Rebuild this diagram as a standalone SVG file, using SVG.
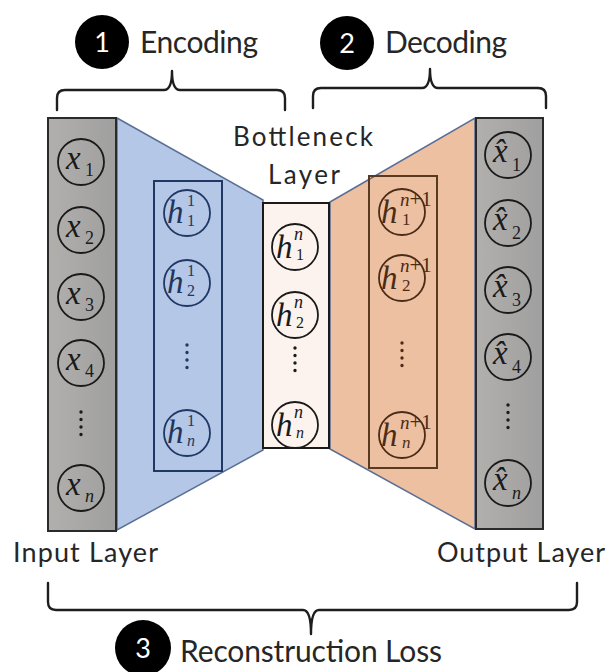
<svg xmlns="http://www.w3.org/2000/svg" width="610" height="672" viewBox="0 0 610 672">
<defs>
<linearGradient id="gray" x1="0" y1="0" x2="1" y2="0">
<stop offset="0" stop-color="#b2b0ad"/>
<stop offset="1" stop-color="#9f9f9f"/>
</linearGradient>
<style>
.lbl{font-family:Lato,"Open Sans","Liberation Sans",sans-serif;fill:#262626}
.num{font-family:Lato,"Open Sans","Liberation Sans",sans-serif;fill:#ffffff;font-size:27px;text-anchor:middle}
.badge{fill:#000000}
.brace{fill:none;stroke:#1e1e1e;stroke-width:2.4;stroke-linejoin:round;stroke-linecap:round}
.m{font-family:"Liberation Serif","DejaVu Serif",serif;font-style:italic;font-size:33px}
.u{font-style:normal}
.sub{font-size:18px}
.sup{font-size:19px}
.sub2{font-size:17px}
.s15{font-size:16px}
.s17{font-size:18px}
.plus{font-size:21px}
.node{fill:none;stroke-width:1.8}
.k{stroke:#1a1a1a}
.kt{fill:#1a1a1a}
.b{stroke:#1f3864}
.bt{fill:#23355a}
.o{stroke:#4a2c17}
.ot{fill:#4a2c17}
.dots{fill:none;stroke-width:3.4;stroke-linecap:round;stroke-dasharray:0 7.5}
.layer{fill:url(#gray);stroke:#2a2a2a;stroke-width:2}
.trap{stroke:#5b6f95;stroke-width:1.5}
</style>
</defs>
<rect width="610" height="672" fill="#ffffff"/>

<g id="connectors">
<polygon class="trap" points="117,118 263,200 263,450 117,530" fill="#b4c7e7"/>
<polygon class="trap" points="330,202 475,118 475,529 330,449" fill="#eec0a2"/>
</g>

<g id="input-layer">
<rect class="layer" x="48" y="118" width="68" height="413"/>
<g id="x1"><circle class="node k" cx="81" cy="162" r="23"/><text class="m kt" x="66" y="169">x<tspan class="u sub" x="85" y="176">1</tspan></text></g>
<g id="x2"><circle class="node k" cx="81" cy="230" r="23"/><text class="m kt" x="66" y="237">x<tspan class="u sub" x="85" y="244">2</tspan></text></g>
<g id="x3"><circle class="node k" cx="81" cy="297" r="23"/><text class="m kt" x="66" y="304">x<tspan class="u sub" x="85" y="311">3</tspan></text></g>
<g id="x4"><circle class="node k" cx="81" cy="363" r="23"/><text class="m kt" x="66" y="370">x<tspan class="u sub" x="85" y="377">4</tspan></text></g>
<line class="dots k" x1="81" y1="412" x2="81" y2="442"/>
<g id="xn"><circle class="node k" cx="81" cy="488" r="23"/><text class="m kt" x="66" y="495">x<tspan class="sub" x="85" y="502">n</tspan></text></g>
</g>

<g id="encoder-layer">
<rect x="154" y="181" width="68" height="290" fill="none" stroke="#1f3864" stroke-width="2"/>
<g id="h1_1"><circle class="node b" cx="187" cy="213" r="23"/><text class="m bt" x="167" y="223">h<tspan class="u s15" x="187" y="206">1</tspan><tspan class="u s15" x="187" y="226">1</tspan></text></g>
<g id="h1_2"><circle class="node b" cx="187" cy="283" r="23"/><text class="m bt" x="167" y="293">h<tspan class="u s15" x="187" y="276">1</tspan><tspan class="u s15" x="187" y="296">2</tspan></text></g>
<line class="dots b" x1="187" y1="345" x2="187" y2="375"/>
<g id="h1_n"><circle class="node b" cx="187" cy="433" r="23"/><text class="m bt" x="167" y="443">h<tspan class="u s15" x="187" y="426">1</tspan><tspan class="s15" x="187" y="446">n</tspan></text></g>
</g>

<g id="bottleneck-layer">
<rect x="263" y="203" width="66" height="245" fill="#fcf3ee" stroke="#1a1a1a" stroke-width="2"/>
<g id="hn_1"><circle class="node k" cx="295" cy="247" r="23"/><text class="m kt" x="276" y="258">h<tspan class="s17" x="294" y="240">n</tspan><tspan class="u s15" x="296" y="260">1</tspan></text></g>
<g id="hn_2"><circle class="node k" cx="295" cy="315" r="23"/><text class="m kt" x="276" y="326">h<tspan class="s17" x="294" y="308">n</tspan><tspan class="u s15" x="296" y="328">2</tspan></text></g>
<line class="dots k" x1="295" y1="348" x2="295" y2="378"/>
<g id="hn_n"><circle class="node k" cx="295" cy="425" r="23"/><text class="m kt" x="276" y="436">h<tspan class="s17" x="294" y="418">n</tspan><tspan class="s15" x="296" y="438">n</tspan></text></g>
</g>

<g id="decoder-layer">
<rect x="369" y="176" width="68" height="292" fill="none" stroke="#5a3a1e" stroke-width="2"/>
<g id="hn1_1"><circle class="node o" cx="402" cy="212" r="23"/><text class="m ot" x="381" y="223">h<tspan class="sup" x="400" y="206">n</tspan><tspan class="u plus">+1</tspan><tspan class="u sub2" x="402" y="225">1</tspan></text></g>
<g id="hn1_2"><circle class="node o" cx="402" cy="278" r="23"/><text class="m ot" x="381" y="289">h<tspan class="sup" x="400" y="272">n</tspan><tspan class="u plus">+1</tspan><tspan class="u sub2" x="402" y="291">2</tspan></text></g>
<line class="dots o" x1="402" y1="343" x2="402" y2="373"/>
<g id="hn1_n"><circle class="node o" cx="402" cy="435" r="23"/><text class="m ot" x="381" y="446">h<tspan class="sup" x="400" y="429">n</tspan><tspan class="u plus">+1</tspan><tspan class="sub2" x="402" y="448">n</tspan></text></g>
</g>

<g id="output-layer">
<rect class="layer" x="476" y="118" width="67" height="411"/>
<g id="xh1"><circle class="node k" cx="508" cy="155" r="23"/><text class="m kt" x="493" y="162">x̂<tspan class="u sub" x="512" y="171">1</tspan></text></g>
<g id="xh2"><circle class="node k" cx="508" cy="223" r="23"/><text class="m kt" x="493" y="230">x̂<tspan class="u sub" x="512" y="239">2</tspan></text></g>
<g id="xh3"><circle class="node k" cx="508" cy="290" r="23"/><text class="m kt" x="493" y="297">x̂<tspan class="u sub" x="512" y="306">3</tspan></text></g>
<g id="xh4"><circle class="node k" cx="508" cy="357" r="23"/><text class="m kt" x="493" y="364">x̂<tspan class="u sub" x="512" y="373">4</tspan></text></g>
<line class="dots k" x1="508" y1="405" x2="508" y2="435"/>
<g id="xhn"><circle class="node k" cx="508" cy="483" r="23"/><text class="m kt" x="493" y="490">x̂<tspan class="sub" x="512" y="499">n</tspan></text></g>
</g>

<g id="braces">
<path class="brace" d="M57,110 V98 Q57,90 65,90 H164 Q172,90 172,71 Q172,90 180,90 H277 Q285,90 285,98 V110"/>
<path class="brace" d="M313,108 V96 Q313,88 321,88 H422 Q430,88 430,69 Q430,88 438,88 H538 Q546,88 546,96 V108"/>
<path class="brace" d="M48,583 V602 Q48,610 56,610 H303 Q311,610 311,634 Q311,610 319,610 H569 Q577,610 577,602 V583"/>
</g>

<g id="labels">
<g id="step1"><circle class="badge" cx="102" cy="42" r="27"/><text class="num" x="102" y="52">1</text><text class="lbl" font-size="30" x="140" y="53" textLength="118">Encoding</text></g>
<g id="step2"><circle class="badge" cx="347" cy="43" r="27"/><text class="num" x="347" y="53">2</text><text class="lbl" font-size="30" x="385" y="53" textLength="122">Decoding</text></g>
<g id="step3"><circle class="badge" cx="143" cy="648" r="28"/><text class="num" x="143" y="658">3</text><text class="lbl" font-size="30" x="180" y="662" textLength="262">Reconstruction Loss</text></g>
<text class="lbl" font-size="26" x="233" y="146" textLength="140">Bottleneck</text>
<text class="lbl" font-size="26" x="268" y="184" textLength="72">Layer</text>
<text class="lbl" font-size="27" x="13" y="562" textLength="145">Input Layer</text>
<text class="lbl" font-size="27" x="437" y="562" textLength="168">Output Layer</text>
</g>
</svg>
